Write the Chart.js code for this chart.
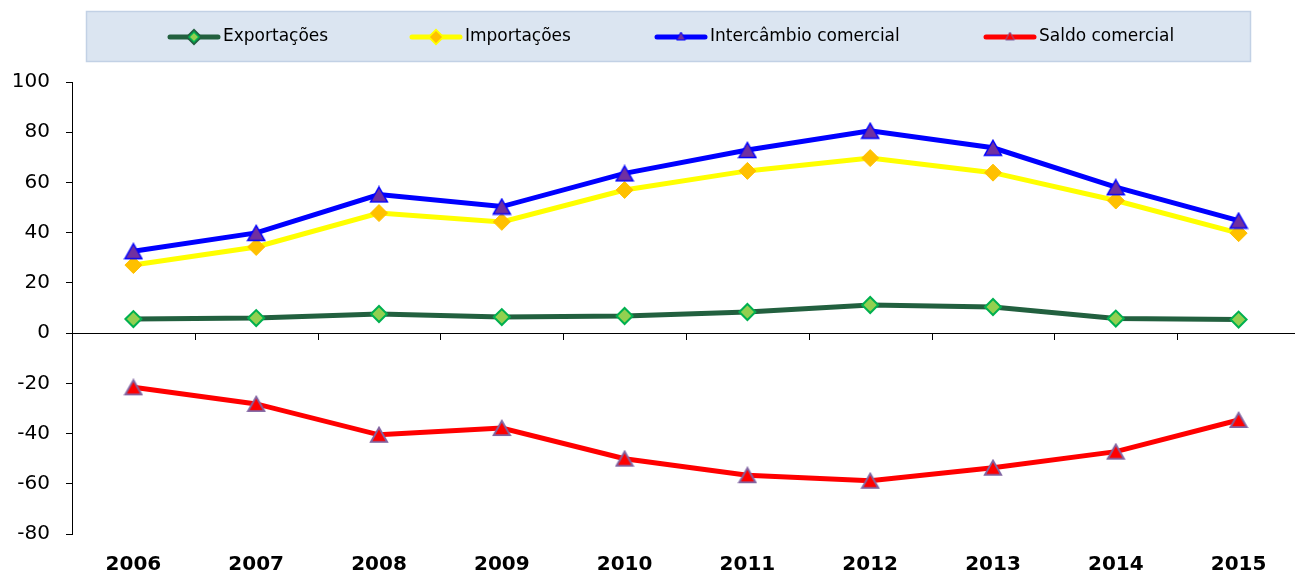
<!DOCTYPE html>
<html>
<head>
<meta charset="utf-8">
<script src="https://cdn.jsdelivr.net/npm/chart.js@4.4.1/dist/chart.umd.min.js"></script>
<style>
  html, body { margin: 0; padding: 0; background: #fff; overflow: hidden; }
  #wrap { position: relative; width: 1300px; height: 573px; }
</style>
</head>
<body>
<div id="wrap"><canvas id="chartComercio"></canvas></div>
<script>
var anos = ["2006", "2007", "2008", "2009", "2010", "2011", "2012", "2013", "2014", "2015"];
var exportacoes = [5.6, 6.0, 7.6, 6.4, 6.8, 8.4, 11.2, 10.4, 5.8, 5.4];
var importacoes = [27.1, 34.3, 47.8, 44.3, 57.0, 64.6, 69.7, 63.9, 52.8, 39.8];
var intercambio = [32.6, 39.9, 55.2, 50.4, 63.6, 72.9, 80.6, 73.8, 58.1, 44.8];
var saldo = [-21.6, -28.2, -40.5, -37.8, -50.0, -56.6, -58.8, -53.6, -47.2, -34.6];

var fonte = "'DejaVu Sans', Verdana, sans-serif";

// triangulo centrado na caixa, como no Excel
function triangulo(w, h, fill, stroke, lw) {
    var c = document.createElement("canvas");
    c.width = w + lw * 2;
    c.height = h + lw * 2;
    var g = c.getContext("2d");
    g.beginPath();
    g.moveTo(c.width / 2, lw);
    g.lineTo(c.width - lw, c.height - lw);
    g.lineTo(lw, c.height - lw);
    g.closePath();
    g.fillStyle = fill;
    g.fill();
    g.strokeStyle = stroke;
    g.lineWidth = lw;
    g.lineJoin = "miter";
    g.stroke();
    return c;
}

var triAzul = triangulo(17, 15, "#7030a0", "#0000ff", 1.5);
var triVerm = triangulo(17, 15, "#ff0000", "#8064a2", 1.8);
var triAzulP = triangulo(9, 8, "#7030a0", "#0000ff", 1);
var triVermP = triangulo(9, 8, "#ff0000", "#8064a2", 1);

// eixo zero com as marcas entre categorias
var zeroLine = {
    id: "zeroLine",
    beforeDatasetsDraw: function (chart) {
        var ctx = chart.ctx;
        var x = chart.scales.x;
        var y0 = Math.round(chart.scales.y.getPixelForValue(0));
        ctx.save();
        ctx.strokeStyle = "#000";
        ctx.lineWidth = 1;
        ctx.beginPath();
        ctx.moveTo(chart.chartArea.left, y0 + 0.5);
        ctx.lineTo(chart.chartArea.right, y0 + 0.5);
        for (var i = 0; i <= anos.length; i++) {
            var px = Math.round(x.getPixelForValue(i - 0.5)) + 0.5;
            ctx.moveTo(px, y0);
            ctx.lineTo(px, y0 + 7);
        }
        ctx.stroke();
        ctx.restore();
    },
};

// legenda no topo, em caixa azul clara
var legendaBox = {
    id: "legendaBox",
    afterDraw: function (chart) {
        var ctx = chart.ctx;
        var starts = [168, 410, 655, 984];
        var mini = [null, null, triAzulP, triVermP];
        ctx.save();
        ctx.fillStyle = "#dbe5f1";
        ctx.fillRect(86, 11, 1165, 51);
        ctx.strokeStyle = "#c2d1e5";
        ctx.lineWidth = 1.5;
        ctx.strokeRect(86.5, 11.5, 1164, 50);
        chart.data.datasets.forEach(function (ds, i) {
            var x0 = starts[i];
            var cy = 37;
            ctx.strokeStyle = ds.borderColor;
            ctx.lineWidth = 5;
            ctx.lineCap = "round";
            ctx.beginPath();
            ctx.moveTo(x0 + 2, cy);
            ctx.lineTo(x0 + 50, cy);
            ctx.stroke();
            if (mini[i]) {
                ctx.drawImage(mini[i], x0 + 26 - mini[i].width / 2, cy - mini[i].height / 2 - 1);
            } else {
                Chart.helpers.drawPoint(ctx, {
                    pointStyle: "rectRot",
                    radius: 5,
                    rotation: 0,
                    borderWidth: 1.5,
                }, x0 + 26, cy);
                ctx.fillStyle = ds.pointBackgroundColor;
                ctx.strokeStyle = ds.pointBorderColor;
                ctx.lineWidth = 1.5;
                ctx.fill();
                ctx.stroke();
            }
            ctx.fillStyle = "#000";
            ctx.font = "17px " + fonte;
            ctx.textBaseline = "middle";
            ctx.textAlign = "left";
            ctx.fillText(ds.label, x0 + 55, cy);
        });
        ctx.restore();
    },
};

var ctx = document.getElementById("chartComercio").getContext("2d");

var chartData = {
    labels: anos,
    datasets: [
        {
            label: "Exportações",
            data: exportacoes,
            borderColor: "#22603f",
            pointStyle: "rectRot",
            pointRadius: 8,
            pointBackgroundColor: "#92d050",
            pointBorderColor: "#00b050",
            pointBorderWidth: 2,
            order: 3,
        },
        {
            label: "Importações",
            data: importacoes,
            borderColor: "#ffff00",
            pointStyle: "rectRot",
            pointRadius: 8.5,
            pointBackgroundColor: "#ffc000",
            pointBorderColor: "#ffc000",
            pointBorderWidth: 1,
            order: 2,
        },
        {
            label: "Intercâmbio comercial",
            data: intercambio,
            borderColor: "#0000ff",
            pointStyle: triAzul,
            pointBackgroundColor: "#7030a0",
            pointBorderColor: "#0000ff",
            order: 1,
        },
        {
            label: "Saldo comercial",
            data: saldo,
            borderColor: "#ff0000",
            pointStyle: triVerm,
            pointBackgroundColor: "#ff0000",
            pointBorderColor: "#8064a2",
            order: 0,
        },
    ],
};

var options = {
    responsive: true,
    maintainAspectRatio: false,
    animation: false,
    devicePixelRatio: 1,
    layout: { autoPadding: false, padding: { top: 82, left: 0, right: 0, bottom: 0 } },
    elements: {
        line: { borderWidth: 5, tension: 0, fill: false },
    },
    plugins: {
        legend: { display: false },
        tooltip: { enabled: false },
    },
    scales: {
        x: {
            offset: true,
            grid: { display: false, drawTicks: false },
            border: { display: false },
            ticks: {
                color: "#000",
                font: { family: fonte, size: 20, weight: "bold" },
                padding: 19,
                maxRotation: 0,
            },
            afterFit: function (scale) { scale.height = 39; },
        },
        y: {
            min: -80,
            max: 100,
            grid: {
                drawOnChartArea: false,
                drawTicks: true,
                tickLength: 6,
                color: "#000",
            },
            border: { display: true, color: "#000", width: 1 },
            ticks: {
                stepSize: 20,
                color: "#000",
                font: { family: fonte, size: 20 },
                padding: 16,
            },
            afterFit: function (scale) { scale.width = 72; },
        },
    },
};

var myChart = new Chart(ctx, {
    type: "line",
    data: chartData,
    options: options,
    plugins: [zeroLine, legendaBox],
});
</script>
</body>
</html>
